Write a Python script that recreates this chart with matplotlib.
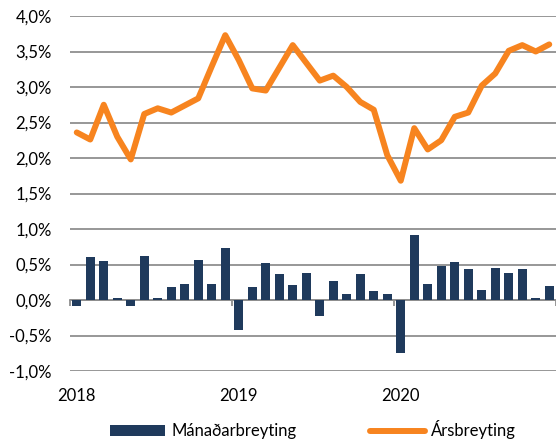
import matplotlib
matplotlib.use("Agg")
import matplotlib.pyplot as plt
import numpy as np
from matplotlib.ticker import FuncFormatter, FixedLocator

plt.rcParams['font.family'] = ['Lato', 'DejaVu Sans']

months = np.arange(36)
year_labels = ["2018", "2019", "2020"]
monthly = [-0.09, 0.60, 0.55, 0.03, -0.09, 0.62, 0.03, 0.19, 0.23, 0.57, 0.23, 0.73,
           -0.42, 0.19, 0.52, 0.36, 0.21, 0.38, -0.22, 0.27, 0.08, 0.36, 0.12, 0.09,
           -0.75, 0.91, 0.22, 0.48, 0.54, 0.43, 0.14, 0.45, 0.38, 0.43, 0.03, 0.20]
annual = [2.36, 2.26, 2.75, 2.30, 1.98, 2.62, 2.70, 2.64, 2.74, 2.84, 3.29, 3.73,
          3.38, 2.98, 2.95, 3.27, 3.59, 3.34, 3.09, 3.16, 3.00, 2.79, 2.68, 2.04,
          1.68, 2.42, 2.12, 2.25, 2.58, 2.64, 3.02, 3.19, 3.51, 3.59, 3.50, 3.60]
series_names = ["Mánaðarbreyting", "Ársbreyting"]

bar_color = "#1F3A5C"
line_color = "#F7841F"
grid_color = "#8F8F8F"
fs = 12

fig = plt.figure(figsize=(5.56, 4.41), dpi=100)
ax = fig.add_axes([70/556, 1-371/441, 486/556, 355/441])

ymin, ymax = -1.0, 4.0
ax.set_ylim(ymin, ymax)
ax.set_xlim(-0.5, 35.5)

ax.set_yticks(np.arange(-1.0, 4.01, 0.5))
ax.yaxis.set_major_formatter(FuncFormatter(lambda v, p: f"{v:.1f}%".replace(".", ",")))
ax.grid(axis='y', color=grid_color, linewidth=1.3)
ax.set_axisbelow(True)

bars = ax.bar(months, monthly, width=0.64, color=bar_color, label=series_names[0], zorder=2)
line, = ax.plot(months, annual, color=line_color, linewidth=4.3, label=series_names[1],
                solid_joinstyle='round', solid_capstyle='round', zorder=3)

ax.set_xticks([0, 12, 24])
ax.set_xticklabels(year_labels)
ax.tick_params(axis='x', length=0, pad=12, labelsize=fs, colors='#000000')
ax.tick_params(axis='y', length=0, pad=13, labelsize=fs)
for s in ax.spines.values():
    s.set_visible(False)

# category axis at zero with tick marks at year boundaries
zero_loc = (0 - ymin) / (ymax - ymin)
sec = ax.secondary_xaxis(zero_loc)
sec.xaxis.set_major_locator(FixedLocator([-0.5, 11.5, 23.5, 35.5]))
sec.tick_params(axis='x', direction='out', length=4, width=1.3, color=grid_color, labelbottom=False)
sec.spines['bottom'].set_color(grid_color)
sec.spines['bottom'].set_linewidth(1.3)
sec.spines['top'].set_visible(False)

leg = ax.legend([bars, line], series_names, loc='center', bbox_to_anchor=(0.5, -0.166),
                ncol=2, frameon=False, fontsize=fs, handlelength=3.3, handleheight=0.65,
                handletextpad=0.35, columnspacing=4.4)

fig.savefig("out.png", dpi=100)
